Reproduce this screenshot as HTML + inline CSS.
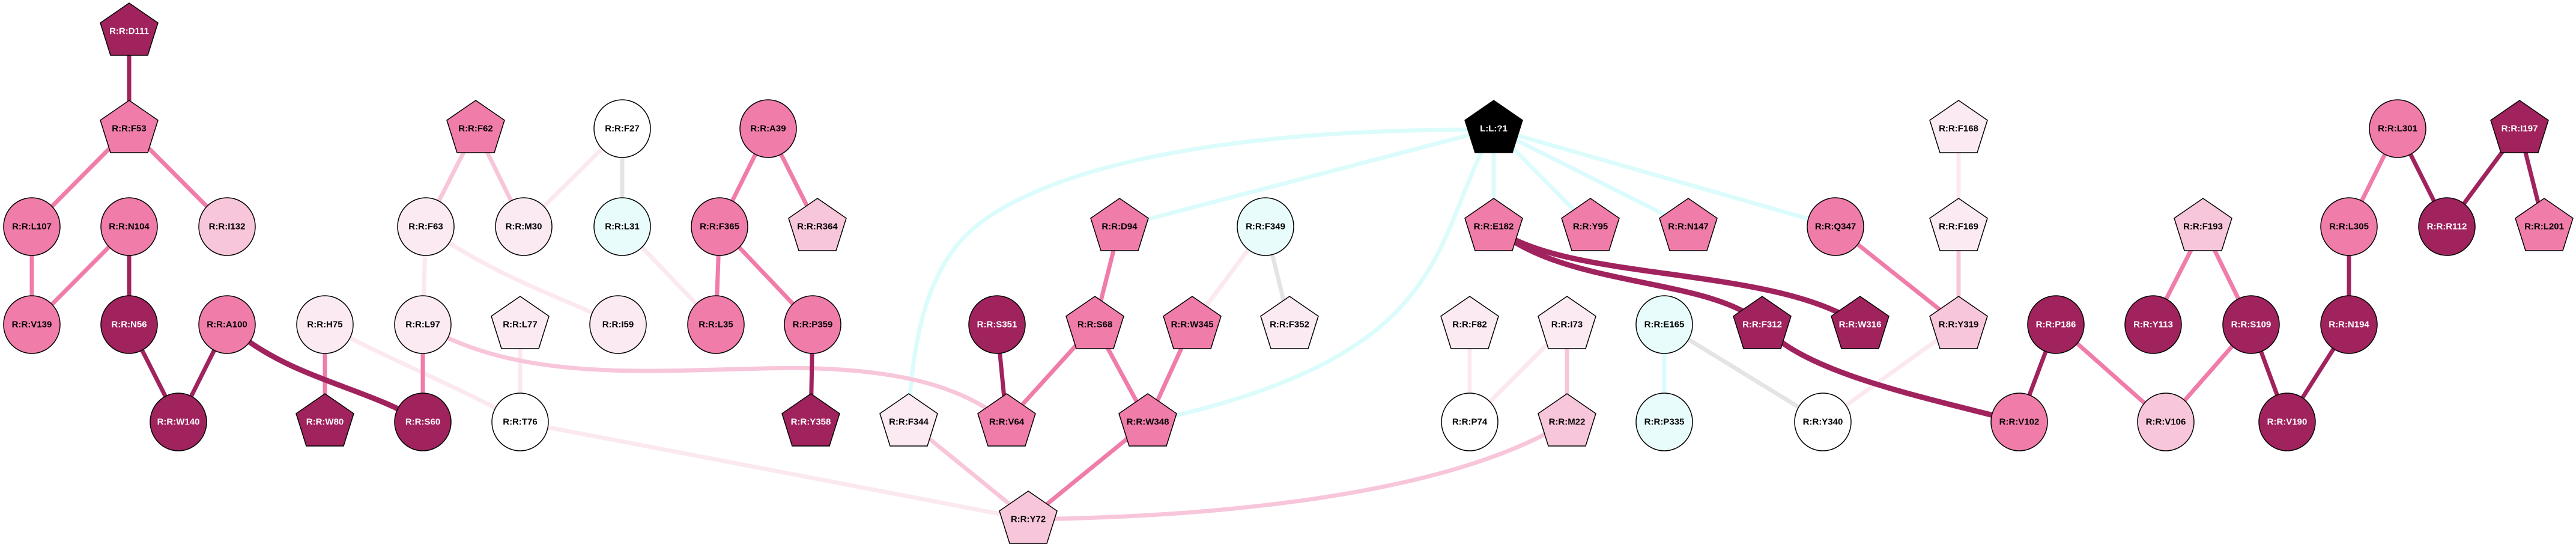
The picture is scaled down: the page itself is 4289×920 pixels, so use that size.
<!DOCTYPE html>
<html><head><meta charset="utf-8"><style>
html,body{margin:0;padding:0;background:#fff;}
svg{display:block;}
text{font-family:"Liberation Sans",sans-serif;font-weight:bold;font-size:15px;text-anchor:middle;dominant-baseline:central;}
</style></head><body>
<svg width="4289" height="920" viewBox="0 0 4289 920" xmlns="http://www.w3.org/2000/svg">
<g fill="none" stroke-width="7" stroke-linecap="butt">
<!-- cyan ligand edges -->
<g stroke="#dcfcfc">
<path d="M2487,216 C2000,212 1700,290 1600,400 C1530,480 1520,600 1513,680"/>
<path d="M2487,214 C2380,400 2430,590 1911,702"/>
<path d="M2487,214 L1864,377"/>
<path d="M2487,214 L2487,377"/>
<path d="M2487,214 L2648,377"/>
<path d="M2487,214 L2811,377"/>
<path d="M2487,214 L3056,377"/>
<path d="M2771,540 L2771,702"/>
</g>
<!-- gray -->
<g stroke="#e4e4e4">
<path d="M1036,214 L1036,377"/>
<path d="M2107,377 L2147,540"/>
<path d="M2771,540 L3035,702"/>
</g>
<!-- very light -->
<g stroke="#fbe8f0">
<path d="M1036,214 L872,377"/>
<path d="M709,377 L704,540"/>
<path d="M709,377 C820,460 950,500 1029,540"/>
<path d="M1036,377 L1192,540"/>
<path d="M541,540 C650,600 780,650 866,702"/>
<path d="M866,540 L866,702"/>
<path d="M866,702 L1712,864"/>
<path d="M2107,377 L1985,540"/>
<path d="M2447,540 L2447,702"/>
<path d="M2609,540 L2447,702"/>
<path d="M3261,214 L3261,377"/>
<path d="M3261,540 L3035,702"/>
</g>
<!-- light pink -->
<g stroke="#f8c6da">
<path d="M792,214 L709,377"/>
<path d="M792,214 L872,377"/>
<path d="M704,540 C900,660 1200,600 1400,615 C1550,625 1620,660 1676,702"/>
<path d="M1513,702 L1712,864"/>
<path d="M2609,702 C2400,830 2000,860 1712,864"/>
<path d="M2609,540 L2609,702"/>
<path d="M3261,377 L3261,540"/>
</g>
<!-- medium pink -->
<g stroke="#f07caa">
<path d="M215,214 L53,377"/>
<path d="M215,214 L378,377"/>
<path d="M53,377 L53,540"/>
<path d="M215,377 L53,540"/>
<path d="M541,540 L541,702"/>
<path d="M704,540 L704,702"/>
<path d="M1279,214 L1198,377"/>
<path d="M1279,214 L1361,377"/>
<path d="M1198,377 L1192,540"/>
<path d="M1198,377 L1353,540"/>
<path d="M1864,377 L1823,540"/>
<path d="M1823,540 L1676,702"/>
<path d="M1823,540 L1911,702"/>
<path d="M1985,540 L1911,702"/>
<path d="M1911,702 L1712,864"/>
<path d="M3056,377 L3261,540"/>
<path d="M3423,540 L3606,702"/>
<path d="M3748,540 L3606,702"/>
<path d="M3668,377 L3585,540"/>
<path d="M3668,377 L3748,540"/>
<path d="M3992,214 L3911,377"/>
</g>
<!-- dark -->
<g stroke="#a0235d">
<path d="M215,52 L215,214"/>
<path d="M215,377 L215,540"/>
<path d="M215,540 L297,702"/>
<path d="M378,540 L297,702"/>
<path d="M378,540 C480,630 600,640 704,702" stroke-width="9"/>
<path d="M1353,540 L1350,702"/>
<path d="M1660,540 L1676,702"/>
<path d="M2487,377 C2600,470 2950,440 3097,540" stroke-width="9"/>
<path d="M2487,377 C2600,480 2850,460 2934,540" stroke-width="9"/>
<path d="M2934,540 C3000,620 3200,660 3362,702" stroke-width="9"/>
<path d="M3423,540 L3362,702"/>
<path d="M3748,540 L3808,702"/>
<path d="M3911,540 L3808,702"/>
<path d="M3911,377 L3911,540"/>
<path d="M3992,214 L4074,377"/>
<path d="M4195,214 L4074,377"/>
<path d="M4195,214 L4236,377"/>
</g>
</g>
<defs>
<polygon id="pg" points="0,-47 48,-14 31,40 -31,40 -48,-14"/>
</defs>
<g stroke="#000" stroke-width="1.5">
<!-- pentagons -->
<g fill="#a0235d">
<use href="#pg" x="215" y="52"/><use href="#pg" x="541" y="702"/><use href="#pg" x="1350" y="702"/>
<use href="#pg" x="2934" y="540"/><use href="#pg" x="3097" y="540"/><use href="#pg" x="4195" y="214"/>
</g>
<g fill="#f07caa">
<use href="#pg" x="215" y="214"/><use href="#pg" x="792" y="214"/><use href="#pg" x="1864" y="377"/>
<use href="#pg" x="2487" y="377"/><use href="#pg" x="2648" y="377"/><use href="#pg" x="2811" y="377"/>
<use href="#pg" x="1823" y="540"/><use href="#pg" x="1985" y="540"/><use href="#pg" x="1676" y="702"/>
<use href="#pg" x="1911" y="702"/><use href="#pg" x="4236" y="377"/>
</g>
<g fill="#f8c6da">
<use href="#pg" x="1361" y="377"/><use href="#pg" x="1712" y="864"/><use href="#pg" x="2609" y="702"/>
<use href="#pg" x="3261" y="540"/><use href="#pg" x="3668" y="377"/>
</g>
<g fill="#fbeaf2">
<use href="#pg" x="866" y="540"/><use href="#pg" x="2147" y="540"/><use href="#pg" x="2447" y="540"/>
<use href="#pg" x="2609" y="540"/><use href="#pg" x="1513" y="702"/><use href="#pg" x="3261" y="214"/>
<use href="#pg" x="3261" y="377"/>
</g>
<use href="#pg" x="2487" y="214" fill="#000"/>
<!-- circles -->
<g fill="#a0235d">
<ellipse cx="215" cy="540" rx="47" ry="48"/><ellipse cx="297" cy="702" rx="47" ry="48"/>
<ellipse cx="704" cy="702" rx="47" ry="48"/><ellipse cx="1660" cy="540" rx="47" ry="48"/>
<ellipse cx="3423" cy="540" rx="47" ry="48"/><ellipse cx="3585" cy="540" rx="47" ry="48"/>
<ellipse cx="3748" cy="540" rx="47" ry="48"/><ellipse cx="3911" cy="540" rx="47" ry="48"/>
<ellipse cx="3808" cy="702" rx="47" ry="48"/><ellipse cx="4074" cy="377" rx="47" ry="48"/>
</g>
<g fill="#f07caa">
<ellipse cx="53" cy="377" rx="47" ry="48"/><ellipse cx="215" cy="377" rx="47" ry="48"/>
<ellipse cx="53" cy="540" rx="47" ry="48"/><ellipse cx="378" cy="540" rx="47" ry="48"/>
<ellipse cx="1279" cy="214" rx="47" ry="48"/><ellipse cx="1198" cy="377" rx="47" ry="48"/>
<ellipse cx="1192" cy="540" rx="47" ry="48"/><ellipse cx="1353" cy="540" rx="47" ry="48"/>
<ellipse cx="3056" cy="377" rx="47" ry="48"/><ellipse cx="3362" cy="702" rx="47" ry="48"/>
<ellipse cx="3992" cy="214" rx="47" ry="48"/><ellipse cx="3911" cy="377" rx="47" ry="48"/>
</g>
<g fill="#f8c6da">
<ellipse cx="378" cy="377" rx="47" ry="48"/><ellipse cx="3606" cy="702" rx="47" ry="48"/>
</g>
<g fill="#fbeaf2">
<ellipse cx="709" cy="377" rx="47" ry="48"/><ellipse cx="872" cy="377" rx="47" ry="48"/>
<ellipse cx="541" cy="540" rx="47" ry="48"/><ellipse cx="704" cy="540" rx="47" ry="48"/>
<ellipse cx="1029" cy="540" rx="47" ry="48"/>
</g>
<g fill="#e8fcfc">
<ellipse cx="1036" cy="377" rx="47" ry="48"/><ellipse cx="2107" cy="377" rx="47" ry="48"/>
<ellipse cx="2771" cy="540" rx="47" ry="48"/><ellipse cx="2771" cy="702" rx="47" ry="48"/>
</g>
<g fill="#fff">
<ellipse cx="1036" cy="214" rx="47" ry="48"/><ellipse cx="866" cy="702" rx="47" ry="48"/>
<ellipse cx="2447" cy="702" rx="47" ry="48"/><ellipse cx="3035" cy="702" rx="47" ry="48"/>
</g>
</g>
<!-- labels -->
<g fill="#fff">
<text x="215" y="52">R:R:D111</text><text x="541" y="702">R:R:W80</text><text x="1350" y="702">R:R:Y358</text>
<text x="2934" y="540">R:R:F312</text><text x="3097" y="540">R:R:W316</text><text x="4195" y="214">R:R:I197</text>
<text x="2487" y="214">L:L:?1</text>
<text x="215" y="540">R:R:N56</text><text x="297" y="702">R:R:W140</text><text x="704" y="702">R:R:S60</text>
<text x="1660" y="540">R:R:S351</text><text x="3423" y="540">R:R:P186</text><text x="3585" y="540">R:R:Y113</text>
<text x="3748" y="540">R:R:S109</text><text x="3911" y="540">R:R:N194</text><text x="3808" y="702">R:R:V190</text>
<text x="4074" y="377">R:R:R112</text>
</g>
<g fill="#000">
<text x="215" y="214">R:R:F53</text><text x="792" y="214">R:R:F62</text><text x="1864" y="377">R:R:D94</text>
<text x="2487" y="377">R:R:E182</text><text x="2648" y="377">R:R:Y95</text><text x="2811" y="377">R:R:N147</text>
<text x="1823" y="540">R:R:S68</text><text x="1985" y="540">R:R:W345</text><text x="1676" y="702">R:R:V64</text>
<text x="1911" y="702">R:R:W348</text><text x="4236" y="377">R:R:L201</text>
<text x="1361" y="377">R:R:R364</text><text x="1712" y="864">R:R:Y72</text><text x="2609" y="702">R:R:M22</text>
<text x="3261" y="540">R:R:Y319</text><text x="3668" y="377">R:R:F193</text>
<text x="866" y="540">R:R:L77</text><text x="2147" y="540">R:R:F352</text><text x="2447" y="540">R:R:F82</text>
<text x="2609" y="540">R:R:I73</text><text x="1513" y="702">R:R:F344</text><text x="3261" y="214">R:R:F168</text>
<text x="3261" y="377">R:R:F169</text>
<text x="53" y="377">R:R:L107</text><text x="215" y="377">R:R:N104</text><text x="53" y="540">R:R:V139</text>
<text x="378" y="540">R:R:A100</text><text x="1279" y="214">R:R:A39</text><text x="1198" y="377">R:R:F365</text>
<text x="1192" y="540">R:R:L35</text><text x="1353" y="540">R:R:P359</text><text x="3056" y="377">R:R:Q347</text>
<text x="3362" y="702">R:R:V102</text><text x="3992" y="214">R:R:L301</text><text x="3911" y="377">R:R:L305</text>
<text x="378" y="377">R:R:I132</text><text x="3606" y="702">R:R:V106</text>
<text x="709" y="377">R:R:F63</text><text x="872" y="377">R:R:M30</text><text x="541" y="540">R:R:H75</text>
<text x="704" y="540">R:R:L97</text><text x="1029" y="540">R:R:I59</text>
<text x="1036" y="377">R:R:L31</text><text x="2107" y="377">R:R:F349</text><text x="2771" y="540">R:R:E165</text>
<text x="2771" y="702">R:R:P335</text>
<text x="1036" y="214">R:R:F27</text><text x="866" y="702">R:R:T76</text><text x="2447" y="702">R:R:P74</text>
<text x="3035" y="702">R:R:Y340</text>
</g>
</svg>
</body></html>
